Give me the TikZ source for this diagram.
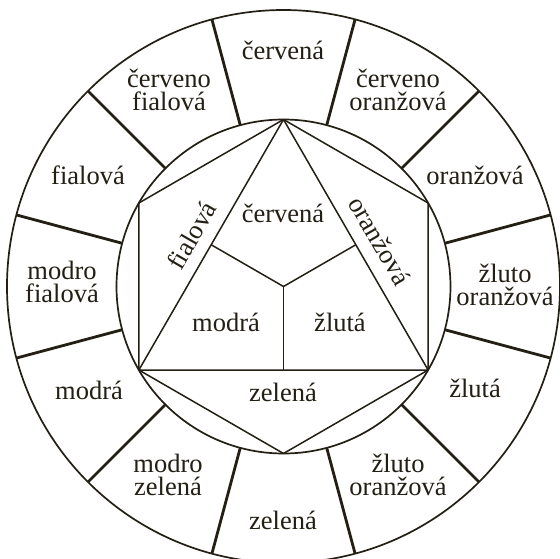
\documentclass[tikz,border=0pt]{standalone}
\usepackage{fontspec}
\setmainfont{Liberation Serif}
\usetikzlibrary{calc}
\definecolor{ink}{RGB}{35,31,20}
\begin{document}
\begin{tikzpicture}[x=1pt,y=1pt,
  ring/.style={draw=ink, line width=1.7pt},
  divider/.style={draw=ink, line width=2.8pt},
  edge/.style={draw=ink, line width=1.5pt, line join=round},
  lab/.style={font=\fontsize{26.5}{23.5}\selectfont, text=ink, align=center, inner sep=0pt}]
\useasboundingbox (-283.5,-271.5) rectangle (276.5,286.5);
\clip (-283.5,-271.5) rectangle (276.5,286.5);
\fill[white] (-283.5,-271.5) rectangle (276.5,286.5);
% geometry
\coordinate (O) at (0,0);
\coordinate (A) at (90:167pt);
\coordinate (B) at (210:167pt);
\coordinate (C) at (330:167pt);
\coordinate (HL) at (150:167pt);
\coordinate (HR) at (30:167pt);
\coordinate (HB) at (270:167pt);
\coordinate (MAB) at ($(A)!0.5!(B)$);
\coordinate (MAC) at ($(A)!0.5!(C)$);
\coordinate (MBC) at ($(B)!0.5!(C)$);
% rings
\draw[ring] (O) circle[radius=276.5pt];
\draw[ring] (O) circle[radius=167pt];
% dividers
\foreach \a in {15,45,...,345}{
  \coordinate (d1) at (\a:167pt);
  \coordinate (d2) at (\a:276.5pt);
  \draw[divider] (d1) -- (d2);
}
% inner figure
\draw[edge] (A) -- (B) -- (C) -- cycle;
\draw[edge] (A) -- (HL) -- (B);
\draw[edge] (A) -- (HR) -- (C);
\draw[edge] (B) -- (HB) -- (C);
\draw[edge] (MAB) -- (O) -- (MAC);
\draw[edge] (O) -- (MBC);
% outer labels
\node[lab] (o1) at (-0.5,236.5) {červená};
\node[lab] (o2) at (-114.5,196.5) {červeno\\fialová};
\node[lab] (o3) at (-195.5,111.5) {fialová};
\node[lab] (o4) at (-221.5,4.5) {modro\\fialová};
\node[lab] (o5) at (-194.5,-103.5) {modrá};
\node[lab] (o6) at (-115.5,-188.5) {modro\\zelená};
\node[lab] (o7) at (-0.5,-233.5) {zelená};
\node[lab] (o8) at (114.5,-188.5) {žluto\\oranžová};
\node[lab] (o9) at (191.5,-101.5) {žlutá};
\node[lab] (o10) at (221.5,1.5) {žluto\\oranžová};
\node[lab] (o11) at (191.5,111.5) {oranžová};
\node[lab] (o12) at (114.5,196.5) {červeno\\oranžová};
% inner labels
\node[lab] (i1) at (-0.5,73.5) {červená};
\node[lab] (i2) at (-57.5,-35.5) {modrá};
\node[lab] (i3) at (56.5,-35.5) {žlutá};
\node[lab] (i4) at (-0.5,-105.5) {zelená};
\node[lab, rotate=60] (i5) at (-92,51) {fialová};
\node[lab, rotate=-60] (i6) at (96.6,45.5) {oranžová};
\end{tikzpicture}
\end{document}
